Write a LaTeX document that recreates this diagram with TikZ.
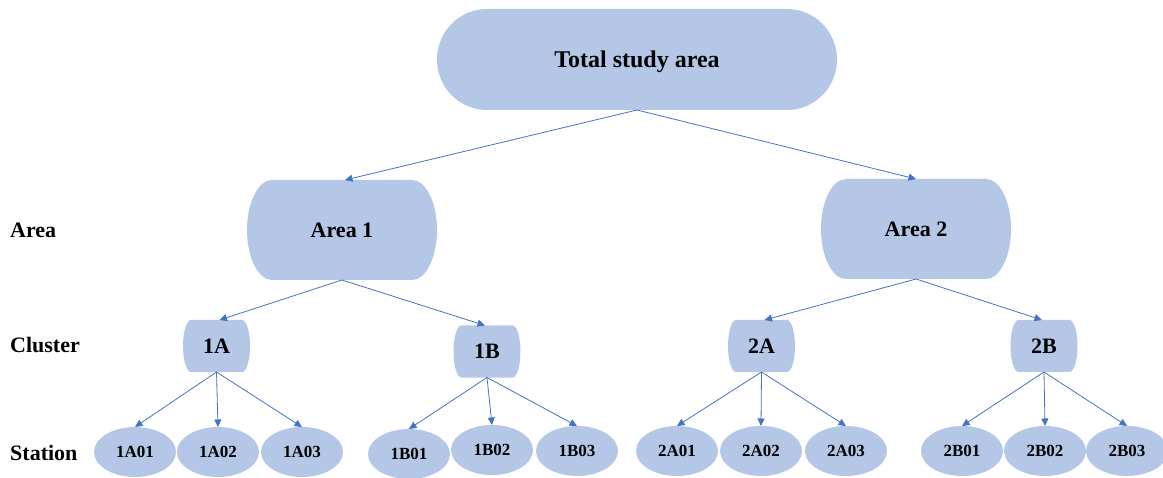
\documentclass[tikz,border=0pt]{standalone}
\usepackage{fontspec}
\setmainfont{Liberation Serif}
\usetikzlibrary{arrows.meta,shapes.geometric}
\definecolor{boxblue}{HTML}{B4C7E7}
\definecolor{arrowblue}{HTML}{4472C4}
\tikzset{
  x=1bp, y=-1bp,
  bulge/.style n args={4}{rectangle, inner sep=0pt, outer sep=0pt,
    minimum width=#1, minimum height=#2, font=\bfseries,
    path picture={\fill[boxblue]
      ([xshift=#3]path picture bounding box.north west) --
      ([xshift=-#3]path picture bounding box.north east)
      arc[start angle=90, end angle=-90, x radius=#3, y radius=#4] --
      ([xshift=#3]path picture bounding box.south west)
      arc[start angle=270, end angle=90, x radius=#3, y radius=#4] -- cycle;}},
  topbox/.style={bulge={400bp}{101bp}{50bp}{50.5bp}, text depth=0pt, font=\fontsize{24bp}{28bp}\selectfont\bfseries},
  areabox/.style={bulge={190bp}{100bp}{25bp}{50bp}, font=\fontsize{22bp}{26bp}\selectfont\bfseries},
  clusterbox/.style={bulge={67bp}{52bp}{8bp}{26bp}, font=\fontsize{22bp}{26bp}\selectfont\bfseries},
  stationbox/.style={ellipse, fill=boxblue, inner sep=0pt, outer sep=0pt,
    minimum width=82bp, minimum height=50bp, font=\fontsize{17bp}{20bp}\selectfont\bfseries},
  levellabel/.style={anchor=base west, inner sep=0pt, font=\fontsize{22bp}{26bp}\selectfont\bfseries},
  arr/.style={draw=arrowblue, line width=0.8bp, -{Triangle[length=7.5bp,width=7bp]}},
}
\begin{document}
\begin{tikzpicture}
\useasboundingbox (0,0) rectangle (1163,478);

% level labels
\node[levellabel] (lArea) at (10,238) {Area};
\node[levellabel] (lCluster) at (10,353) {Cluster};
\node[levellabel] (lStation) at (10,460) {Station};

% top
\node[topbox] (top) at (637,59.5) {Total study area};

% areas
\node[areabox] (a1) at (342,230) {Area 1};
\node[areabox] (a2) at (916,229) {Area 2};

% clusters
\node[clusterbox] (c1a) at (216.5,346) {1A};
\node[clusterbox] (c1b) at (487,351.5) {1B};
\node[clusterbox] (c2a) at (761.5,346) {2A};
\node[clusterbox] (c2b) at (1044,346) {2B};

% stations
\node[stationbox] (s1a1) at (135,452) {1A01};
\node[stationbox] (s1a2) at (218,452) {1A02};
\node[stationbox] (s1a3) at (302,452) {1A03};
\node[stationbox] (s1b1) at (409,454) {1B01};
\node[stationbox] (s1b2) at (492,450) {1B02};
\node[stationbox] (s1b3) at (577,451) {1B03};
\node[stationbox] (s2a1) at (677,451) {2A01};
\node[stationbox] (s2a2) at (761,451) {2A02};
\node[stationbox] (s2a3) at (846,451) {2A03};
\node[stationbox] (s2b1) at (962,451) {2B01};
\node[stationbox] (s2b2) at (1045,451) {2B02};
\node[stationbox] (s2b3) at (1127,451) {2B03};

% connectors
\draw[arr] (top.south) -- ([xshift=3bp]a1.north);
\draw[arr] (top.south) -- (a2.north);
\draw[arr] (a1.south) -- ([xshift=3bp]c1a.north);
\draw[arr] (a1.south) -- ([xshift=-2bp]c1b.north);
\draw[arr] (a2.south) -- ([xshift=3bp]c2a.north);
\draw[arr] (a2.south) -- ([xshift=-2bp]c2b.north);
\foreach \c/\s in {c1a/s1a1, c1a/s1a2, c1a/s1a3, c1b/s1b1, c1b/s1b2, c1b/s1b3,
                   c2a/s2a1, c2a/s2a2, c2a/s2a3, c2b/s2b1, c2b/s2b2, c2b/s2b3}
  \draw[arr] (\c.south) -- (\s.north);
\end{tikzpicture}
\end{document}
